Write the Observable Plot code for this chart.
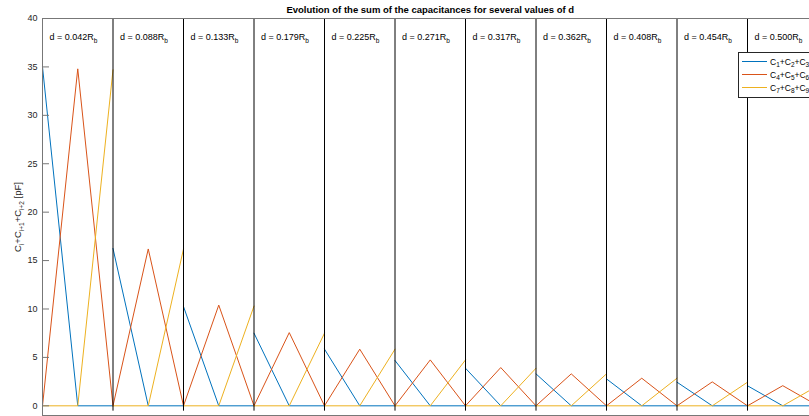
<!DOCTYPE html>
<html>
<head>
<meta charset="utf-8">
<script src="https://cdn.jsdelivr.net/npm/d3@7"></script>
<script src="https://cdn.jsdelivr.net/npm/@observablehq/plot@0.6"></script>
<style>
  html, body { margin: 0; padding: 0; overflow: hidden; background: #fff; }
  #wrap { position: relative; width: 809px; height: 416px; overflow: hidden; font-family: "Liberation Sans", Arial, Helvetica, sans-serif; }
  #wrap > svg { max-width: none !important; position: absolute; left: 0; top: 0; }
  #legend { position: absolute; left: 738px; top: 52px; width: 90px; height: 44px; border: 1px solid #262626; background: #fff; font-size: 8.5px; color: #000; }
  #legend .row { position: absolute; left: 3px; height: 13px; display: flex; align-items: center; }
  #legend .sw { display: block; width: 25px; height: 3px; margin-right: 3px; }
  #legend sub { font-size: 6.5px; vertical-align: -2px; line-height: 0; }
</style>
</head>
<body>
<div id="wrap"></div>
<script>
// ---- data ----
const dValues = ["0.042", "0.088", "0.133", "0.179", "0.225", "0.271", "0.317", "0.362", "0.408", "0.454", "0.500"];
const c123 = [35.0, 16.25, 10.25, 7.5, 5.85, 4.68, 3.88, 3.3, 2.78, 2.44, 2.07];
const c456 = [34.8, 16.2, 10.4, 7.56, 5.85, 4.74, 3.95, 3.3, 2.85, 2.47, 2.08];
const c789 = [34.7, 16.2, 10.3, 7.5, 5.85, 4.74, 3.88, 3.3, 2.85, 2.44, 2.08];
const seriesNames = ["C_1+C_2+C_3", "C_4+C_5+C_6", "C_7+C_8+C_9"];
const seriesColors = ["#0072BD", "#D95319", "#EDB120"];
const yTicks = [0, 5, 10, 15, 20, 25, 30, 35, 40];
const titleText = "Evolution of the sum of the capacitances for several values of d";
const yLabel = "C_i+C_{i+1}+C_{i+2} [pF]";

// build line table: within each segment, the peak sits at start / middle / end
const seriesPeaks = [c123, c456, c789];
const rows = [];
seriesPeaks.forEach((vals, s) => {
  vals.forEach((v, k) => {
    const pts = [[k, 0], [k + 0.5, 0], [k + 1, 0]];
    pts[s][1] = v;
    pts.forEach(([x, y]) => rows.push({series: s, seg: k, x, y}));
  });
});
const segIdx = dValues.map((d, i) => i);

const chart = Plot.plot({
  width: 830,
  height: 430,
  marginLeft: 42,
  marginRight: 12.5,
  marginTop: 18,
  marginBottom: 15,
  style: {fontFamily: '"Liberation Sans", Arial, Helvetica, sans-serif', fontSize: "9px", color: "#262626", background: "#fff", maxWidth: "none"},
  x: {domain: [0, 11], axis: null},
  y: {domain: [-1, 40], axis: null},
  marks: [
    Plot.line(rows, {
      x: "x", y: "y", z: d => d.series * 100 + d.seg,
      stroke: d => seriesColors[d.series], strokeWidth: 1
    }),
    Plot.ruleX(segIdx.slice(1), {x: d => d, y1: -0.55, y2: 40, stroke: "#000", strokeWidth: 1}),
    Plot.frame({stroke: "#777", strokeWidth: 1}),
    Plot.axisY(yTicks, {anchor: "left", tickSize: -7, tickPadding: 12, stroke: "#777", fill: "#262626", fontSize: 9, label: null}),
    Plot.text(dValues, {
      x: (d, i) => i, y: () => 40, dx: 7, dy: 19,
      text: d => `d = ${d}R_b`, textAnchor: "start", fontSize: 9, fill: "#000"
    }),
    Plot.text([titleText], {frameAnchor: "top", dy: -9, lineAnchor: "middle", fontWeight: "bold", fontSize: 9.5, fill: "#000"}),
    Plot.text([yLabel], {frameAnchor: "left", dx: -25, rotate: -90, textAnchor: "middle", lineAnchor: "middle", fontSize: 9.5, fill: "#262626"})
  ]
});

// convert "_x" / "_{xy}" markup into subscript tspans
function applySubscripts(el) {
  const txt = el.textContent;
  if (!txt.includes("_")) return;
  const parts = [];
  const re = /_(\{[^}]*\}|.)/g;
  let last = 0, m;
  while ((m = re.exec(txt))) {
    if (m.index > last) parts.push({t: txt.slice(last, m.index), sub: false});
    let s = m[1];
    if (s.startsWith("{")) s = s.slice(1, -1);
    parts.push({t: s, sub: true});
    last = re.lastIndex;
  }
  if (last < txt.length) parts.push({t: txt.slice(last), sub: false});
  while (el.firstChild) el.removeChild(el.firstChild);
  const ns = "http://www.w3.org/2000/svg";
  let shifted = false;
  parts.forEach(p => {
    const ts = document.createElementNS(ns, "tspan");
    ts.textContent = p.t;
    if (p.sub && !shifted) { ts.setAttribute("dy", "3"); ts.setAttribute("font-size", "6.5"); shifted = true; }
    else if (p.sub) { ts.setAttribute("font-size", "6.5"); }
    else if (!p.sub && shifted) { ts.setAttribute("dy", "-3"); shifted = false; }
    el.appendChild(ts);
  });
}
d3.select(chart).selectAll("text").each(function() { applySubscripts(this); });

const wrap = document.getElementById("wrap");
wrap.appendChild(chart);

// legend
const ns = "http://www.w3.org/2000/svg";
const legend = document.createElement("div");
legend.id = "legend";
seriesNames.forEach((name, i) => {
  const row = document.createElement("div");
  row.className = "row";
  row.style.top = (2 + i * 13) + "px";
  const sw = document.createElementNS(ns, "svg");
  sw.setAttribute("class", "sw");
  sw.setAttribute("width", "25");
  sw.setAttribute("height", "3");
  const ln = document.createElementNS(ns, "line");
  ln.setAttribute("x1", "0"); ln.setAttribute("x2", "25");
  ln.setAttribute("y1", "1.5"); ln.setAttribute("y2", "1.5");
  ln.setAttribute("stroke", seriesColors[i]);
  ln.setAttribute("stroke-width", "1");
  sw.appendChild(ln);
  row.appendChild(sw);
  const lab = document.createElement("span");
  lab.innerHTML = name.replace(/_(\d)/g, "<sub>$1</sub>");
  row.appendChild(lab);
  legend.appendChild(row);
});
wrap.appendChild(legend);
</script>
</body>
</html>
